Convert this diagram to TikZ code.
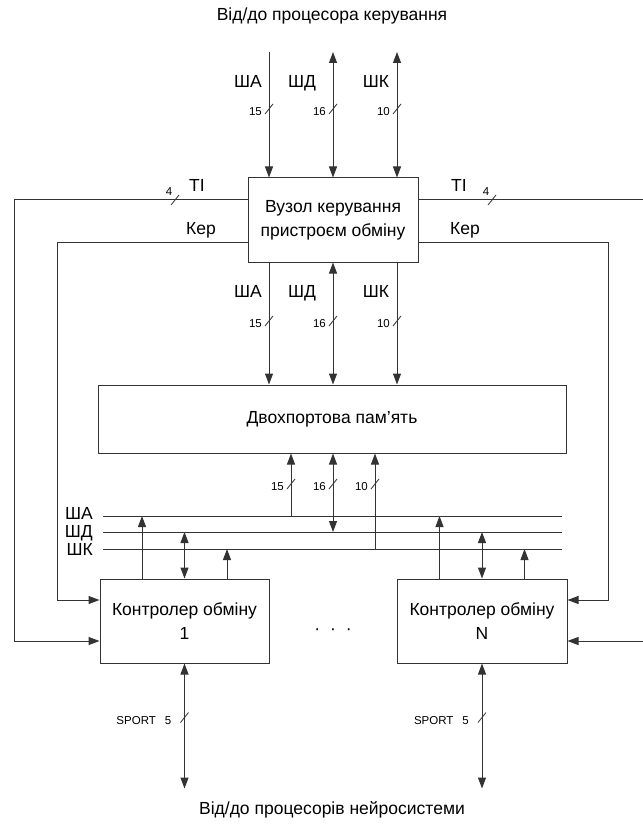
\documentclass[tikz,border=0pt]{standalone}
\usepackage{fontspec}
\setmainfont{Liberation Sans}
\usetikzlibrary{arrows.meta, positioning, calc}

\begin{document}
\begin{tikzpicture}[
        x=1pt, y=-1pt,
        box/.style={draw=black!80, line width=1pt, fill=white, align=center,
                    inner sep=0pt, font=\fontsize{17.5}{24}\selectfont},
        wire/.style={line width=1pt, black!80},
        arrow/.style={wire, -{Triangle[length=11pt,width=8pt]}},
        biarrow/.style={wire, {Triangle[length=11pt,width=8pt]}-{Triangle[length=11pt,width=8pt]}},
        lbl/.style={font=\fontsize{17.5}{21}\selectfont, inner sep=0pt,
                    text height=0.72em, text depth=0.2em},
        num/.style={font=\fontsize{11.5}{13}\selectfont, inner sep=0pt},
        tick/.pic={\draw[line width=0.8pt, black!80] (-4,5) -- (4,-5);},
        buswd/.pic={\draw[line width=0.8pt, black!80] (-4,5) -- (4,-5);
                    \node[num, anchor=east] at (-7,3) {#1};},
    ]

    \useasboundingbox (0,0) rectangle (642,834);

    % ---------- blocks ----------------------------------------------------
    \node[lbl] (title) at (332,18) {Від/до процесора керування};

    \node[box, minimum width=170pt, minimum height=84pt] (ctrlunit) at (333,220)
        {Вузол керування\\пристроєм обміну};
    \node[box, minimum width=468pt, minimum height=68pt] (mem) at (332,419)
        {Двохпортова пам’ять};
    \node[box, minimum width=169pt, minimum height=84pt] (ctrl1) at (184.5,621)
        {Контролер обміну\\1};
    \node[box, minimum width=170pt, minimum height=84pt] (ctrlN) at (482,621)
        {Контролер обміну\\N};

    \node[lbl] (dots) at (333,632) {·\hspace{10pt}·\hspace{10pt}·};

    \node[lbl] (footer) at (332,812) {Від/до процесорів нейросистеми};

    % ---------- control processor <-> control unit -----------------------
    \coordinate (inA) at (269,52);
    \coordinate (inD) at (333,52);
    \coordinate (inK) at (397,52);

    \draw[arrow]   (inA) -- (inA |- ctrlunit.north);
    \draw[biarrow] (inD) -- (inD |- ctrlunit.north);
    \draw[biarrow] (inK) -- (inK |- ctrlunit.north);

    \node[lbl] (inAl) at (248,85) {ША};
    \node[lbl] (inDl) at (302,85) {ШД};
    \node[lbl] (inKl) at (376,85) {ШК};

    \pic at (269,109) {buswd=15};
    \pic at (333,109) {buswd=16};
    \pic at (397,109) {buswd=10};

    % ---------- control unit -> memory -----------------------------------
    \draw[arrow]   (inA |- ctrlunit.south) -- (inA |- mem.north);
    \draw[biarrow] (inD |- ctrlunit.south) -- (inD |- mem.north);
    \draw[arrow]   (inK |- ctrlunit.south) -- (inK |- mem.north);

    \node[lbl] (outAl) at (248,295) {ША};
    \node[lbl] (outDl) at (302,295) {ШД};
    \node[lbl] (outKl) at (376,295) {ШК};

    \pic at (269,321) {buswd=15};
    \pic at (333,321) {buswd=16};
    \pic at (397,321) {buswd=10};

    % ---------- TI and Кер lines to the controllers ----------------------
    \coordinate (tiL)  at (14,200);
    \coordinate (kerL) at (57,242);
    \coordinate (tiR)  at (643,200);
    \coordinate (kerR) at (608,242);

    \draw[arrow] (ctrlunit.west |- tiL) -- (tiL) |- ($(ctrl1.west)+(0,20)$);
    \draw[arrow] (ctrlunit.west |- kerL) -- (kerL) |- ($(ctrl1.west)+(0,-21)$);
    \draw[arrow] (ctrlunit.east |- tiR) -- (tiR) |- ($(ctrlN.east)+(0,20)$);
    \draw[arrow] (ctrlunit.east |- kerR) -- (kerR) |- ($(ctrlN.east)+(0,-21)$);

    \pic at (175,200) {tick};
    \node[num] (tiLw) at (169,192) {4};
    \node[lbl] (tiLl) at (197,189) {TI};
    \node[lbl] (kerLl) at (201,232) {Кер};

    \pic at (492,200) {tick};
    \node[num] (tiRw) at (486,192) {4};
    \node[lbl] (tiRl) at (459,189) {TI};
    \node[lbl] (kerRl) at (465,232) {Кер};

    % ---------- memory <-> internal buses --------------------------------
    \coordinate (busAw) at (103,516);  \coordinate (busAe) at (562,516);
    \coordinate (busDw) at (103,532);  \coordinate (busDe) at (562,532);
    \coordinate (busKw) at (103,549);  \coordinate (busKe) at (562,549);

    \draw[wire] (busAw) -- (busAe);
    \draw[wire] (busDw) -- (busDe);
    \draw[wire] (busKw) -- (busKe);

    \node[lbl, anchor=east] (busAl) at (93,517) {ША};
    \node[lbl, anchor=east] (busDl) at (93,535) {ШД};
    \node[lbl, anchor=east] (busKl) at (93,553) {ШК};

    \coordinate (mA) at (291,516);
    \coordinate (mD) at (333,532);
    \coordinate (mK) at (375,549);

    \draw[arrow]   (mA) -- (mA |- mem.south);
    \draw[biarrow] (mD) -- (mD |- mem.south);
    \draw[arrow]   (mK) -- (mK |- mem.south);

    \pic at (291,484) {buswd=15};
    \pic at (333,484) {buswd=16};
    \pic at (375,484) {buswd=10};

    % ---------- controllers <-> buses and SPORT --------------------------
    \foreach \c in {ctrl1, ctrlN} {
        \coordinate (\c-a) at ([xshift=-42.5pt]\c.north);
        \coordinate (\c-d) at (\c.north);
        \coordinate (\c-k) at ([xshift=42.5pt]\c.north);
        \draw[arrow]   (\c-a) -- (\c-a |- busAw);
        \draw[biarrow] (\c-d |- busDw) -- (\c-d);
        \draw[arrow]   (\c-k) -- (\c-k |- busKw);

        \coordinate (\c-s) at ($(\c.south)+(0,125)$);
        \draw[biarrow] (\c.south) -- (\c-s);
        \pic at ($(\c.south)+(0,54)$) {tick};
        \node[num, anchor=east] (\c-sport) at ($(\c.south)+(-13,57)$) {SPORT\hspace{9pt}5};
    }

\end{tikzpicture}
\end{document}
